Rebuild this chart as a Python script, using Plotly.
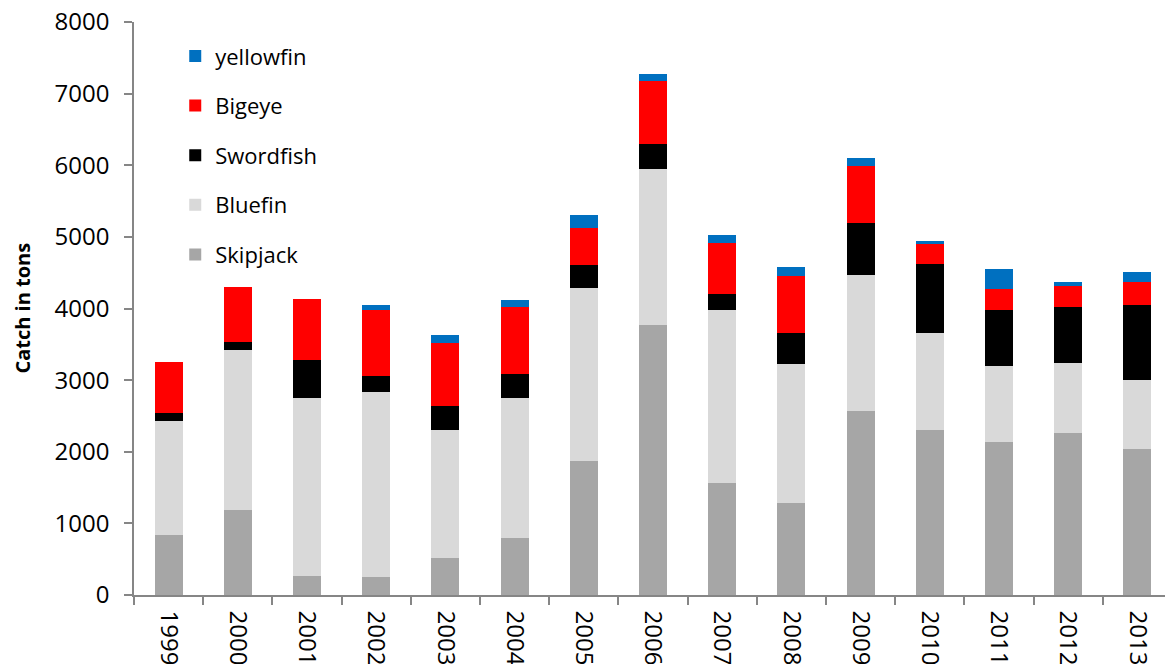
import plotly.graph_objects as go

# Annual catch by species (tons)
years = ["1999", "2000", "2001", "2002", "2003", "2004", "2005", "2006",
         "2007", "2008", "2009", "2010", "2011", "2012", "2013"]

skipjack = [838, 1187, 261, 256, 517, 797, 1877, 3770,
            1567, 1283, 2566, 2306, 2139, 2255, 2032]
bluefin = [1592, 2235, 2495, 2572, 1791, 1958, 2405, 2181,
           2408, 1948, 1906, 1346, 1055, 990, 967]
swordfish = [117, 107, 521, 223, 330, 335, 330, 340,
             232, 428, 721, 964, 781, 772, 1055]
bigeye = [703, 771, 857, 925, 883, 928, 518, 888,
          707, 795, 798, 281, 297, 302, 311]
yellowfin = [0, 0, 0, 79, 112, 97, 182, 97,
             107, 121, 112, 45, 275, 56, 140]

# stacked bottom to top; legend lists them top to bottom
series = [
    ("Skipjack", skipjack, "#A6A6A6"),
    ("Bluefin", bluefin, "#D9D9D9"),
    ("Swordfish", swordfish, "#000000"),
    ("Bigeye", bigeye, "#FF0000"),
    ("yellowfin", yellowfin, "#0070C0"),
]

FONT = "Open Sans"
AXIS_GREY = "#868686"

fig = go.Figure()
for i, (name, vals, color) in enumerate(series):
    fig.add_trace(go.Bar(
        x=years, y=vals, name=name, legendgroup=name,
        legendrank=100 - i,
        marker=dict(color=color, line=dict(width=0)),
    ))

fig.update_layout(
    width=1165, height=664,
    margin=dict(l=134, r=0, t=22, b=69, autoexpand=False),
    barmode="stack",
    bargap=0.595,
    plot_bgcolor="white",
    paper_bgcolor="white",
    font=dict(family=FONT, size=22, color="#000000"),
    showlegend=True,
    legend=dict(
        x=0.04, y=0.977, xanchor="left", yanchor="top",
        traceorder="grouped",
        tracegroupgap=18,
        font=dict(family=FONT, size=22, color="#000000"),
        bgcolor="rgba(0,0,0,0)",
        itemwidth=30,
    ),
    annotations=[dict(
        text="<b>Catch in tons</b>", textangle=-90,
        xref="paper", yref="paper", x=-0.1086, y=0.5,
        xanchor="center", yanchor="middle", showarrow=False,
        font=dict(family=FONT, size=20, color="#000000"),
    )],
)

fig.update_xaxes(
    type="category",
    range=[-0.5, 14.4],
    showline=True, linecolor=AXIS_GREY, linewidth=1.5,
    ticks="outside", tickson="boundaries", ticklen=8,
    tickcolor=AXIS_GREY, tickwidth=1.5,
    tickangle=90,
    ticklabelstandoff=9,
    tickfont=dict(family=FONT, size=24, color="#000000"),
    showgrid=False, zeroline=False, automargin=False,
)
fig.update_yaxes(
    range=[0, 8000], dtick=1000,
    showline=True, linecolor=AXIS_GREY, linewidth=1.5,
    ticks="outside", ticklen=8, tickcolor=AXIS_GREY, tickwidth=1.5,
    ticklabelstandoff=10,
    tickfont=dict(family=FONT, size=24, color="#000000"),
    showgrid=False, zeroline=False, automargin=False,
)

fig.write_html("out.html")
